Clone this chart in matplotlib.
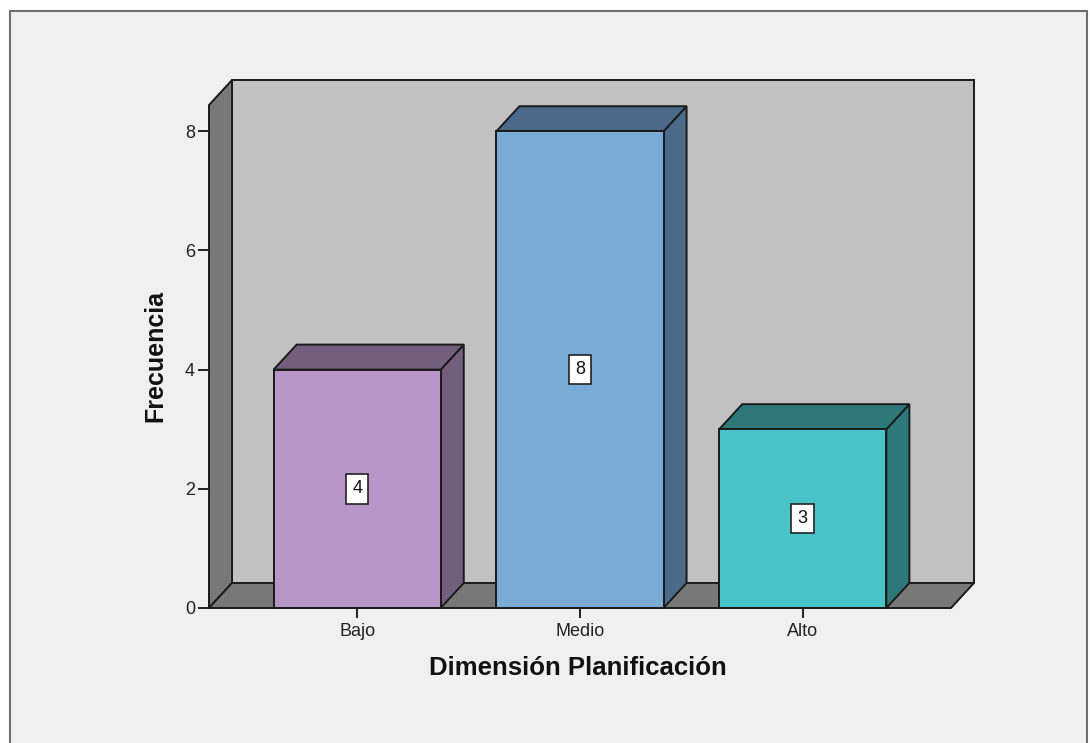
"""
3D-style frequency bar chart for the planning dimension (SPSS look).
"""

import matplotlib.pyplot as plt
from matplotlib.patches import Polygon, Rectangle

# Data
categories = ["Bajo", "Medio", "Alto"]
counts = [4, 8, 3]
front_colors = ["#b897c8", "#7aaad6", "#48c4c8"]
shade_colors = ["#735f7c", "#4b6a89", "#2d7979"]

y_ticks = [0, 2, 4, 6, 8]

# Geometry of the pseudo-3D box (data units)
BAR_W = 0.75
X_PAD = 0.665          # gap between box edge and outer bar centers
Y_TOP = 8.44           # top of the front plane
DX = 0.1034            # depth offset in x
DY = 0.42              # depth offset in y

WALL_DARK = "#787878"
WALL_BACK = "#c1c1c1"
EDGE = "#1a1a1a"

plt.rcParams["font.family"] = ["Liberation Sans", "DejaVu Sans"]

fig = plt.figure(figsize=(10.9, 7.43), dpi=100, facecolor="white")

# light grey chart frame
fig.patches.append(Rectangle((10 / 1090, -0.02), 1077 / 1090, 1 - 11 / 743 + 0.02,
                             transform=fig.transFigure, facecolor="#f0f0f0",
                             edgecolor="#6e6e6e", linewidth=1.5, zorder=-5))

ax = fig.add_axes([209 / 1090, (743 - 608) / 743, (974 - 209) / 1090, (608 - 80) / 743])
ax.set_facecolor("none")
ax.set_zorder(2)

x0 = -X_PAD
x1 = len(categories) - 1 + X_PAD
ax.set_xlim(x0, x1 + DX)
ax.set_ylim(0, Y_TOP + DY)

lw = 1.4

# back wall, left wall, floor
ax.add_patch(Rectangle((x0 + DX, DY), x1 - x0, Y_TOP, facecolor=WALL_BACK,
                       edgecolor=EDGE, linewidth=lw, clip_on=False))
ax.add_patch(Polygon([(x0, 0), (x0 + DX, DY), (x0 + DX, Y_TOP + DY), (x0, Y_TOP)],
                     facecolor=WALL_DARK, edgecolor=EDGE, linewidth=lw, clip_on=False))
ax.add_patch(Polygon([(x0, 0), (x1, 0), (x1 + DX, DY), (x0 + DX, DY)],
                     facecolor=WALL_DARK, edgecolor=EDGE, linewidth=lw, clip_on=False))

# bars: side, top, front
for i, (h, fc, sc) in enumerate(zip(counts, front_colors, shade_colors)):
    xl = i - BAR_W / 2
    xr = i + BAR_W / 2
    ax.add_patch(Polygon([(xr, 0), (xr + DX, DY), (xr + DX, h + DY), (xr, h)],
                         facecolor=sc, edgecolor=EDGE, linewidth=lw, clip_on=False))
    ax.add_patch(Polygon([(xl, h), (xr, h), (xr + DX, h + DY), (xl + DX, h + DY)],
                         facecolor=sc, edgecolor=EDGE, linewidth=lw, clip_on=False))
    ax.add_patch(Rectangle((xl, 0), BAR_W, h, facecolor=fc, edgecolor=EDGE,
                           linewidth=lw, clip_on=False))
    ax.text(i, h / 2, str(h), ha="center", va="center", fontsize=13, color="#111111",
            bbox=dict(boxstyle="square,pad=0.35", facecolor="white",
                      edgecolor="#222222", linewidth=1.2))

for side in ["top", "right", "bottom", "left"]:
    ax.spines[side].set_visible(False)

ax.set_xticks(range(len(categories)))
ax.set_xticklabels(categories)
ax.set_yticks(y_ticks)
ax.set_yticklabels([str(t) for t in y_ticks])
ax.tick_params(axis="x", direction="out", length=7.5, width=1.4, color="#222222",
               labelsize=13, labelcolor="#222222", pad=3)
ax.tick_params(axis="y", direction="out", length=8, width=1.4, color="#222222",
               labelsize=13, labelcolor="#222222", pad=2)

fig.text(578 / 1090, 1 - 668 / 743, "Dimensión Planificación", ha="center", va="center",
         fontsize=18.5, fontweight="bold", color="#111111")
fig.text(155 / 1090, 1 - 356 / 743, "Frecuencia", ha="center", va="center",
         rotation=90, fontsize=18, fontweight="bold", color="#111111")

plt.savefig("out.png", dpi=100, facecolor=fig.get_facecolor())
plt.close()
